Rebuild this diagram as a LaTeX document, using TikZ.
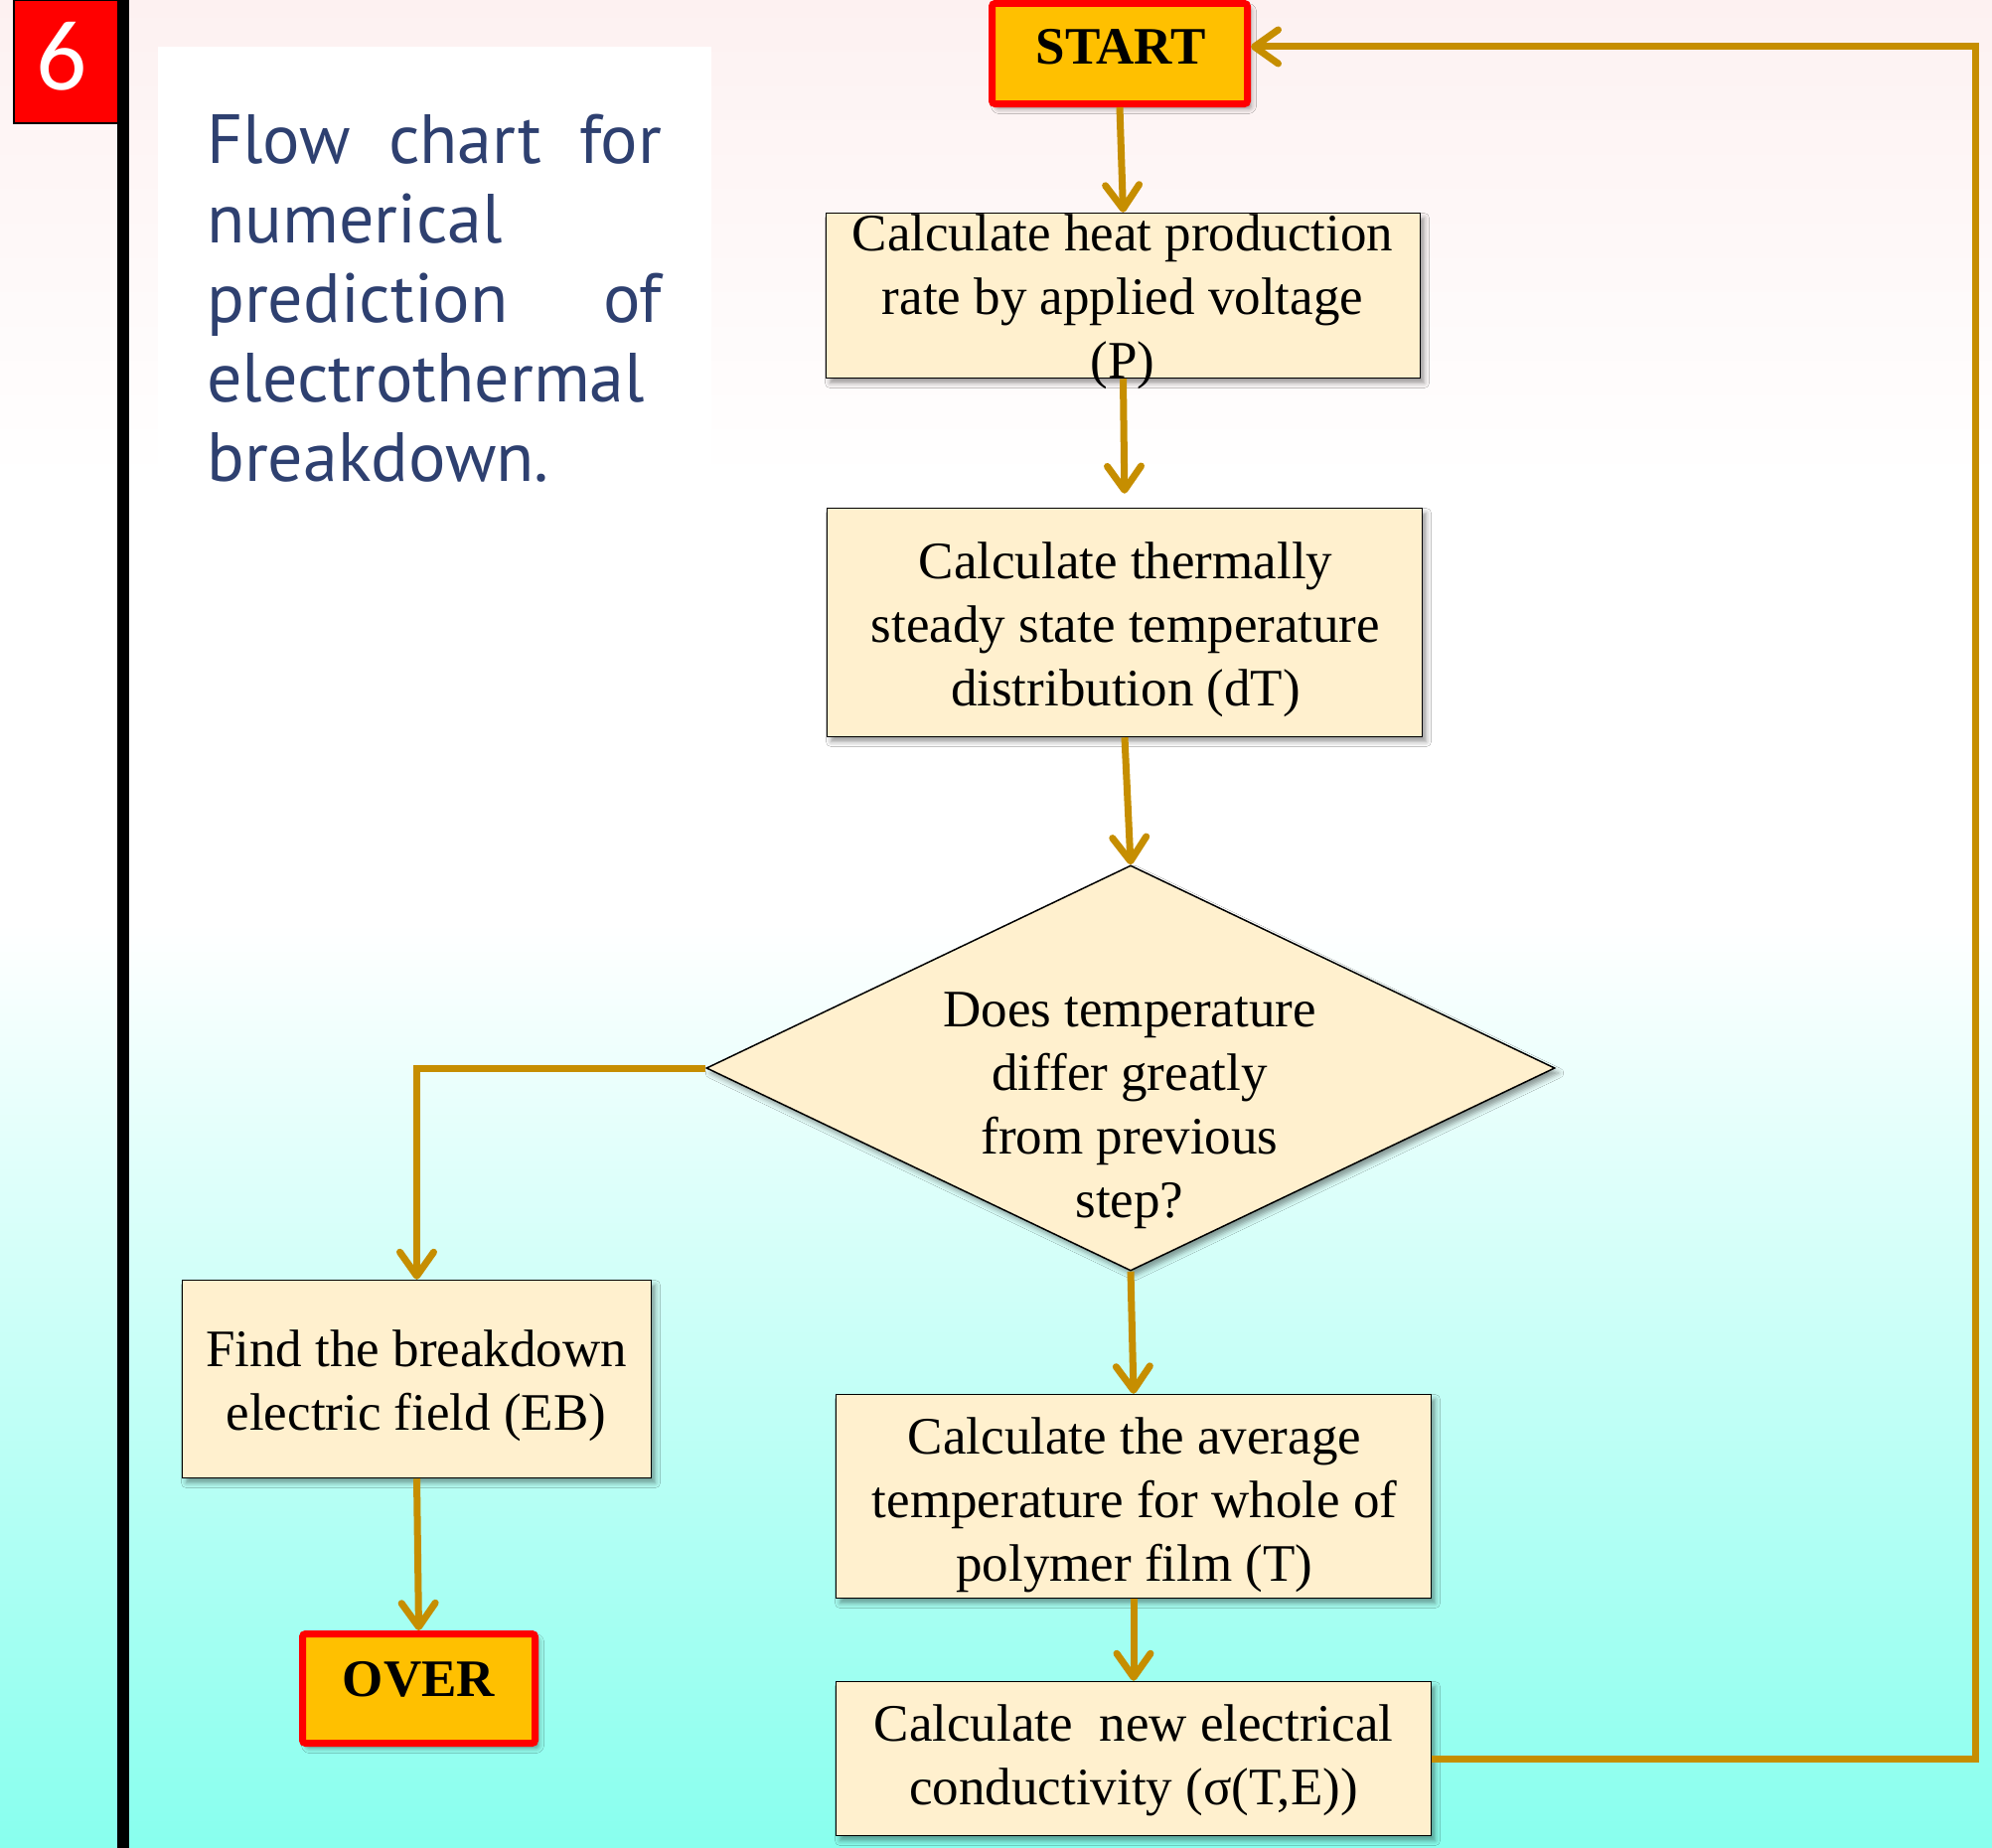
\documentclass[tikz,border=0pt]{standalone}
\usepackage{fontspec}
\setmainfont{Liberation Serif}
\newfontfamily\titlefont{PT Sans}
\newfontfamily\numfont{Carlito}
\usetikzlibrary{arrows.meta,shapes.geometric,shadows.blur}
\definecolor{bgpink}{RGB}{253,241,241}
\definecolor{bgcyan}{RGB}{136,255,238}
\definecolor{boxfill}{RGB}{255,240,206}
\definecolor{arrowc}{RGB}{198,142,0}
\definecolor{startfill}{RGB}{255,192,0}
\definecolor{titleblue}{RGB}{46,64,112}
\pgfdeclareverticalshading{bgshade}{100bp}{color(0bp)=(bgcyan); color(25bp)=(bgcyan); color(50bp)=(white); color(62bp)=(white); color(75bp)=(bgpink); color(100bp)=(bgpink)}
\begin{document}
\begin{tikzpicture}[x=1pt,y=-1pt,
  softshadow/.style={blur shadow={shadow xshift=4pt, shadow yshift=-5pt, shadow blur radius=5pt, shadow opacity=40}},
  procbox/.style={draw=black, line width=1.5pt, fill=boxfill, inner sep=0pt, softshadow},
  termbox/.style={draw=red, line width=7pt, fill=startfill, rounded corners=3pt, inner sep=0pt, softshadow},
  boxtext/.style={inner sep=0pt, align=center, font=\fontsize{53}{64}\selectfont},
  termtext/.style={inner sep=0pt, anchor=base, font=\bfseries\fontsize{53}{64}\selectfont},
  titleline/.style={inner sep=0pt, anchor=base west, text=titleblue, font=\titlefont\fontsize{70}{80}\selectfont},
  flow/.style={draw=arrowc, line width=7pt, -{Straight Barb[length=24pt,width=34pt,round]}}]
\useasboundingbox (0,0) rectangle (2005,1860);
% background
\shade[shading=bgshade] (0,0) rectangle (2005,1860);
% number tab and bar
\node[draw=black, line width=1.5pt, fill=red, minimum width=105pt, minimum height=124pt, inner sep=0pt] (num) at (66.5,62) {};
\node[inner sep=0pt, anchor=base, text=white, font=\numfont\fontsize{101}{110}\selectfont] (numtxt) at (62,90) {6};
\fill[black] (118,0) rectangle (130,1860);
% title
\fill[white] (159,47) rectangle (716,560);
\node[titleline] (l1) at (208,164) {\makebox[458pt][l]{Flow\hfill chart\hfill for}};
\node[titleline] (l2) at (208,244) {numerical};
\node[titleline] (l3) at (208,324) {\makebox[458pt][l]{prediction\hfill of}};
\node[titleline] (l4) at (208,404) {electrothermal};
\node[titleline] (l5) at (208,484) {breakdown.};
% terminals
\node[termbox, minimum width=257pt, minimum height=101pt] (start) at (1127,54) {};
\node[termtext] (starttxt) at (1128,65) {START};
\node[termbox, minimum width=234pt, minimum height=110pt] (over) at (421.5,1699.5) {};
\node[termtext] (overtxt) at (421.5,1707) {OVER};
% process boxes
\node[procbox, minimum width=598pt, minimum height=166pt] (b1) at (1130.5,297.5) {};
\node[boxtext] (t1) at (1130,304) {Calculate heat production\\rate by applied voltage\\(P)};
\node[procbox, minimum width=599pt, minimum height=230pt] (b2) at (1132,626.5) {};
\node[boxtext] (t2) at (1133,634) {Calculate thermally\\steady state temperature\\distribution (dT)};
\node[procbox, shape=diamond, minimum width=854pt, minimum height=408pt] (dia) at (1138,1075) {};
\node[boxtext] (dt) at (1137,1118) {Does temperature\\differ greatly\\from previous\\step?};
\node[procbox, minimum width=472pt, minimum height=199pt] (b3) at (419.5,1388) {};
\node[boxtext] (t3) at (419,1395) {Find the breakdown\\electric field (EB)};
\node[procbox, minimum width=599pt, minimum height=205pt] (b4) at (1141,1506) {};
\node[boxtext] (t4) at (1142,1515) {Calculate the average\\temperature for whole of\\polymer film (T)};
\node[procbox, minimum width=599pt, minimum height=155pt] (b5) at (1141,1770) {};
\node[boxtext] (t5) at (1141,1772) {Calculate\ \ new electrical\\conductivity (σ(T,E))};
% connectors
\coordinate (loop) at (1988,47);
\draw[flow] (start.south) -- (b1.north);
\draw[flow, shorten >=14pt] (b1.south) -- (b2.north);
\draw[flow] (b2.south) -- (dia.north);
\draw[flow] (dia.south) -- (b4.north);
\draw[flow] (b4.south) -- (b5.north);
\draw[flow] (dia.west) -| (b3.north);
\draw[flow] (b3.south) -- (over.north);
\draw[flow] (b5.east) -| (loop) -- (start.east |- loop);
\end{tikzpicture}
\end{document}
